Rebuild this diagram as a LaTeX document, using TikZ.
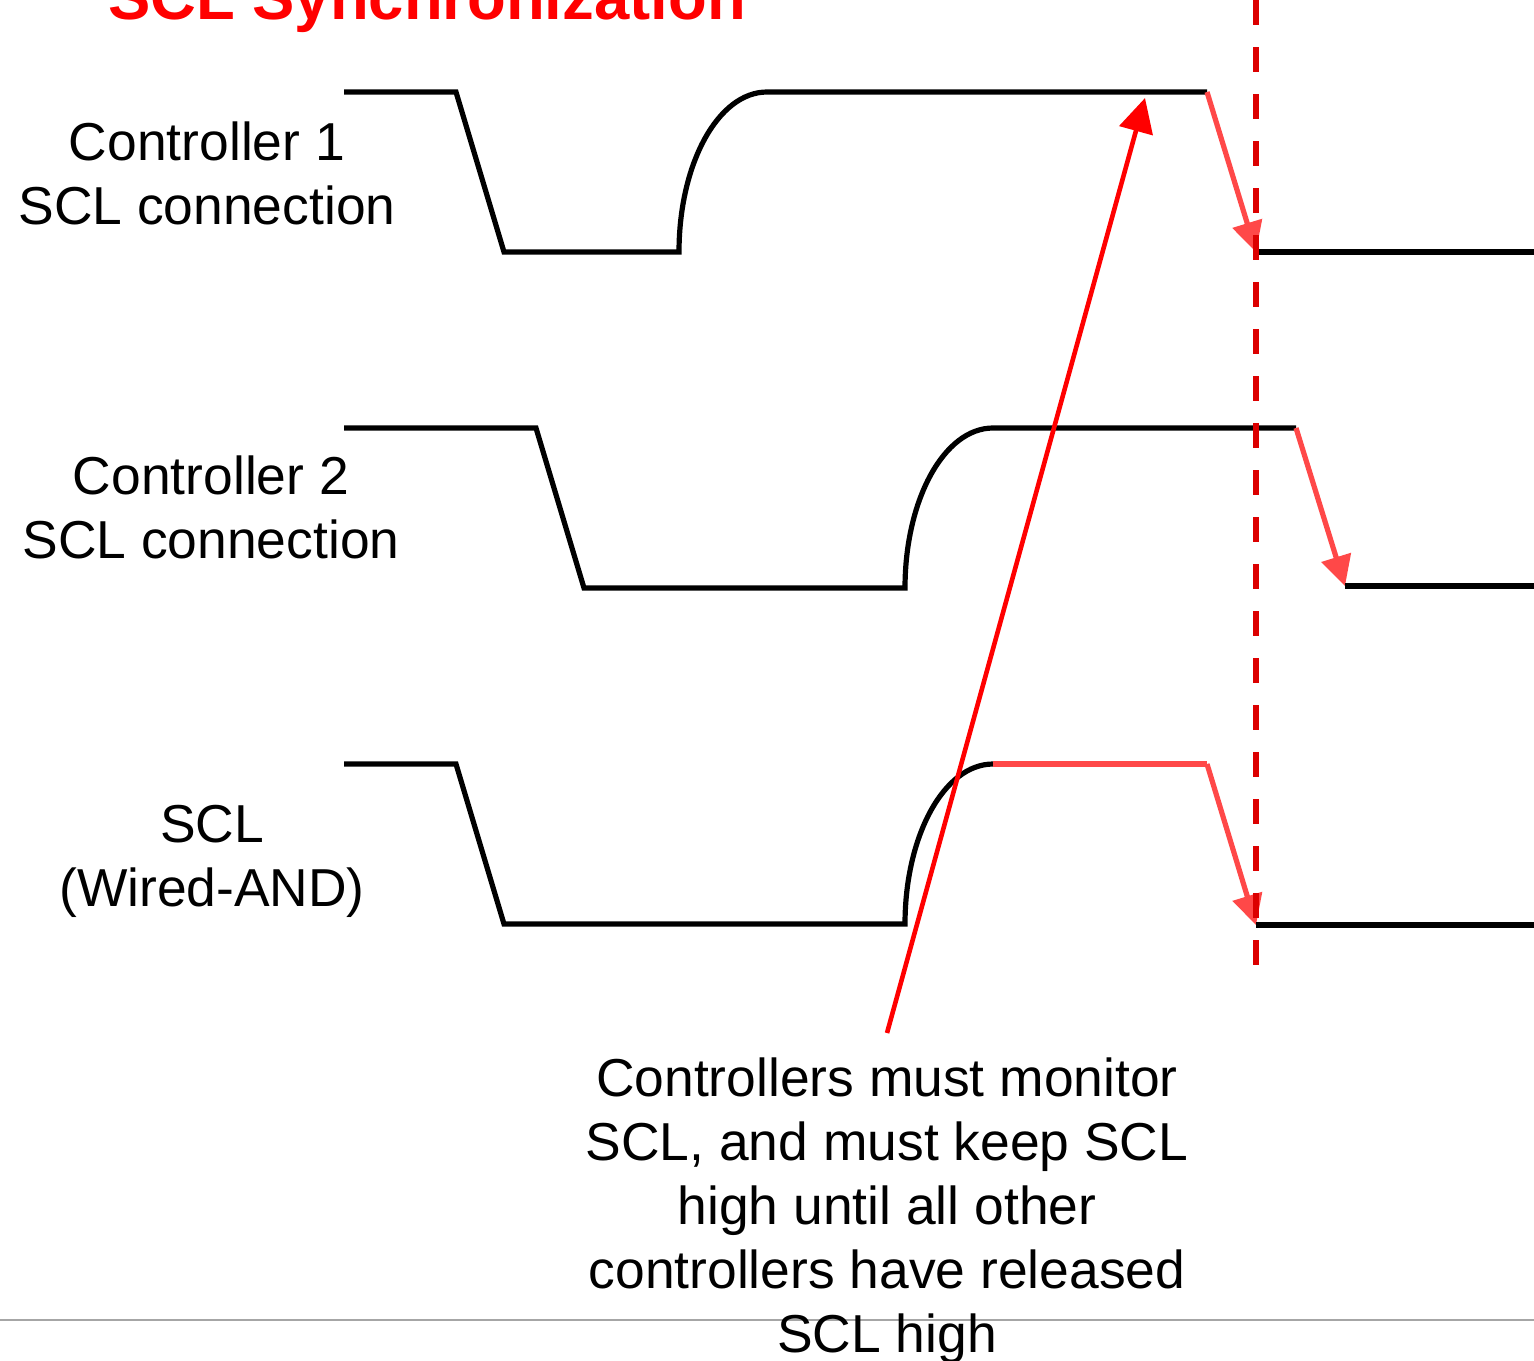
\documentclass[tikz,border=0pt]{standalone}
\usepackage{fontspec}
\setmainfont{Liberation Sans}
\usetikzlibrary{arrows.meta}
\definecolor{sigred}{RGB}{255,72,72}
\definecolor{dashred}{RGB}{220,0,0}
\definecolor{annred}{RGB}{255,0,0}
\tikzset{
  wave/.style={line width=2.6pt, black, line join=miter},
  fall/.style={line width=2.6pt, sigred, -{Triangle[length=15pt,width=15pt]}},
  hold/.style={line width=2.6pt, sigred},
  label/.style={align=center, font=\fontsize{26.7}{32}\selectfont, inner sep=0pt},
  title/.style={font=\fontsize{31.7}{36}\selectfont\bfseries, text=annred, inner sep=0pt},
  marker/.style={line width=3pt, dashred, dash pattern=on 12.5pt off 11pt},
  annot/.style={line width=2.3pt, annred, -{Triangle[length=17pt,width=17pt]}},
}
\begin{document}
\begin{tikzpicture}[x=0.5pt, y=-0.5pt]
\useasboundingbox (0,0) rectangle (1534,1360);
% title
\node[title, anchor=base] (ttl) at (427,19) {SCL Synchronization};
% labels
\node[label] (l1) at (207,173) {Controller 1\\SCL connection};
\node[label] (l2) at (211,507) {Controller 2\\SCL connection};
\node[label] (l3) at (212,861) {SCL\\(Wired-AND)};
% waveform points
\coordinate (a0) at (344,92);  \coordinate (a1) at (456,92);
\coordinate (a2) at (504,252); \coordinate (a3) at (679,252);
\coordinate (a4) at (767,92);  \coordinate (a5) at (1207,92);
\coordinate (a6) at (1256,252); \coordinate (a7) at (1534,252);
\coordinate (b0) at (344,428); \coordinate (b1) at (536,428);
\coordinate (b2) at (584,588); \coordinate (b3) at (905,588);
\coordinate (b4) at (993,428); \coordinate (b5) at (1296,428);
\coordinate (b6) at (1345,586); \coordinate (b7) at (1534,586);
\coordinate (c0) at (344,764); \coordinate (c1) at (456,764);
\coordinate (c2) at (504,924); \coordinate (c3) at (905,924);
\coordinate (c4) at (993,764); \coordinate (c5) at (1207,764);
\coordinate (c6) at (1256,925); \coordinate (c7) at (1534,925);
% controller 1
\draw[wave] (a0) -- (a1) -- (a2) -- (a3) .. controls (679,164) and (718,92) .. (a4) -- (a5);
\draw[fall] (a5) -- (a6);
\draw[wave] (a6) -- (a7);
% controller 2
\draw[wave] (b0) -- (b1) -- (b2) -- (b3) .. controls (905,500) and (944,428) .. (b4) -- (b5);
\draw[fall] (b5) -- (b6);
\draw[wave] (b6) -- (b7);
% SCL
\draw[wave] (c0) -- (c1) -- (c2) -- (c3) .. controls (905,836) and (944,764) .. (c4);
\draw[hold] (c4) -- (c5);
\draw[fall] (c5) -- (c6);
\draw[wave] (c6) -- (c7);
% dashed marker
\coordinate (m0) at (1256,0);
\coordinate (m1) at (1256,970);
\draw[marker] (m0) -- (m1);
% grey rule
\coordinate (g0) at (0,1320);
\coordinate (g1) at (1534,1320);
\draw[gray!70, line width=1pt] (g0) -- (g1);
% annotation
\node[label] (note) at (887,1211) {Controllers must monitor\\SCL, and must keep SCL\\high until all other\\controllers have released\\SCL high};
\coordinate (n0) at (887,1033);
\coordinate (n1) at (1145,98);
\draw[annot] (n0) -- (n1);
\end{tikzpicture}
\end{document}
